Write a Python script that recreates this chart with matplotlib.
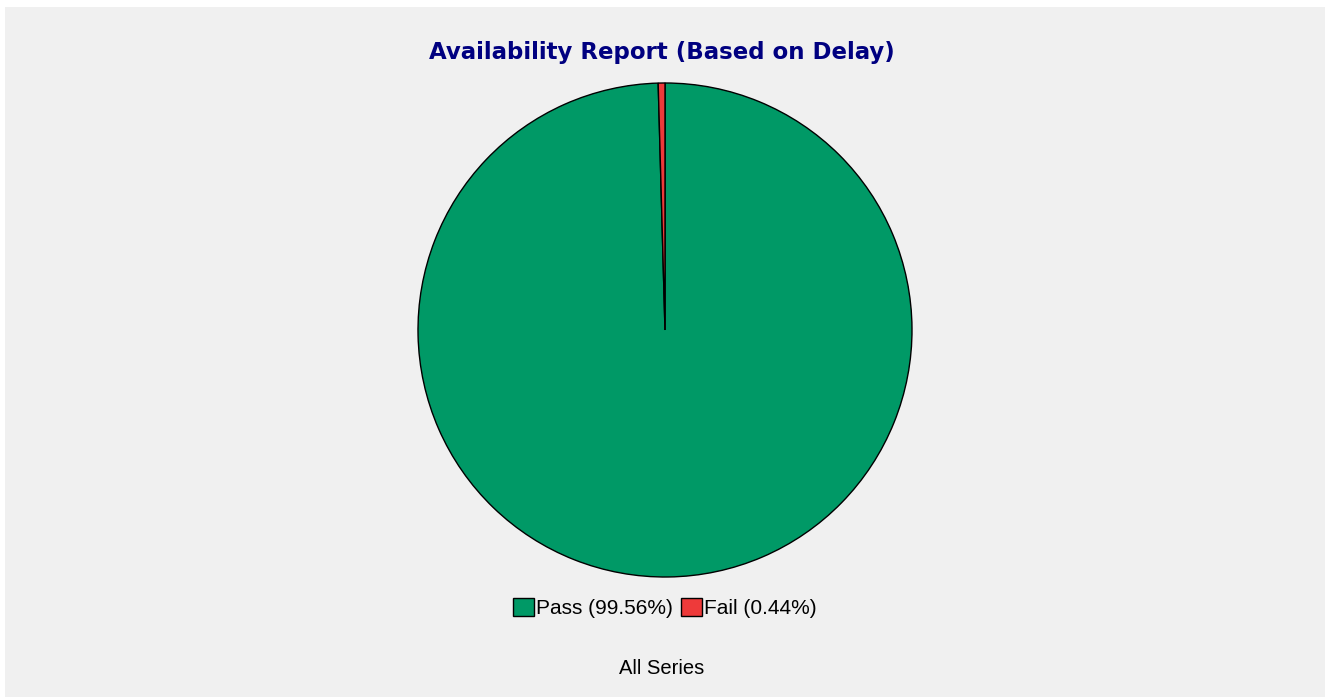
import matplotlib
matplotlib.use("Agg")
import matplotlib.pyplot as plt
from matplotlib.patches import Rectangle, Patch

labels = ["Pass", "Fail"]
values = [99.56, 0.44]
colors = ["#009966", "#ee3a3a"]
title = "Availability Report (Based on Delay)"
xlabel = "All Series"

W, H = 1330, 700
fig = plt.figure(figsize=(W / 100, H / 100), dpi=100)
fig.patch.set_facecolor("white")
fig.add_artist(Rectangle((5 / W, 3 / H), 1320 / W, 690 / H, transform=fig.transFigure,
                         facecolor="#f0f0f0", edgecolor="none", zorder=0))

cx, cy, r = 665, 330, 247
ax = fig.add_axes([(cx - r) / W, (H - cy - r) / H, 2 * r / W, 2 * r / H])
ax.pie(values, colors=colors, startangle=90, counterclock=False, radius=1.0,
       wedgeprops=dict(edgecolor="black", linewidth=1.0))
ax.set_xlim(-1.0, 1.0)
ax.set_ylim(-1.0, 1.0)
ax.set_aspect("equal")
ax.axis("off")

fig.text(662 / W, 1 - 53 / H, title, ha="center", va="center", fontsize=16.5,
         fontweight="bold", color="#000080", family="DejaVu Sans")

handles = [Patch(facecolor=c, edgecolor="black", linewidth=1.0) for c in colors]
leg_labels = [f"{l} ({v:.2f}%)" for l, v in zip(labels, values)]
fig.legend(handles, leg_labels, loc="center", bbox_to_anchor=(665 / W, 1 - 608 / H),
           ncol=2, frameon=False, handlelength=1.0, handleheight=1.0,
           handletextpad=0.1, columnspacing=0.4, borderpad=0,
           prop={"family": "Liberation Sans", "size": 15})

fig.text(662 / W, 1 - 668 / H, xlabel, ha="center", va="center", fontsize=14.5,
         family="Liberation Sans", color="black")

fig.savefig("out.png", dpi=100, facecolor=fig.get_facecolor())
